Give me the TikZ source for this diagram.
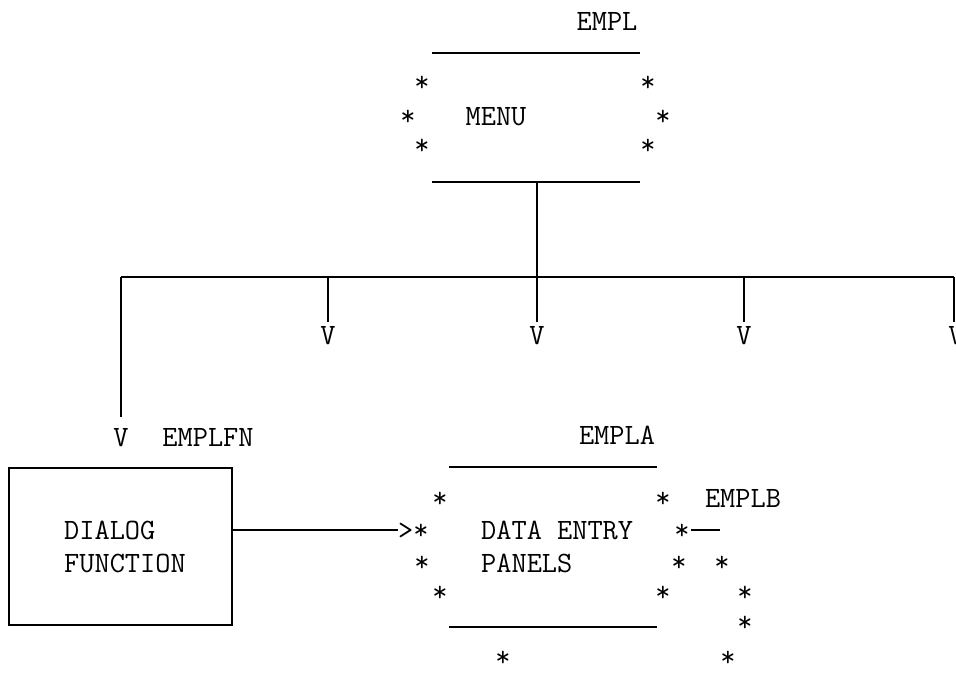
\documentclass[tikz,border=0pt]{standalone}
\begin{document}
\begin{tikzpicture}[x=1pt,y=-1pt,
  txt/.style={font=\ttfamily\fontsize{29.5}{30}\selectfont, inner sep=0pt, anchor=base},
  txtw/.style={txt, anchor=base west},
  st/.style={txt},
  ln/.style={line width=1.6pt}]
\useasboundingbox (0,0) rectangle (956,687);
% MENU block
\node[txt] (empl) at (607,31) {EMPL};
\coordinate (mtl) at (432,53); \coordinate (mtr) at (640,53);
\coordinate (mbl) at (432,182); \coordinate (mbr) at (640,182);
\draw[ln] (mtl) -- (mtr);
\draw[ln] (mbl) -- (mbr);
\node[txt] (menu) at (496,126) {MENU};
\node[st] (ms1) at (422,92) {*};
\node[st] (ms2) at (408,126) {*};
\node[st] (ms3) at (422,155) {*};
\node[st] (ms4) at (648,92) {*};
\node[st] (ms5) at (663,126) {*};
\node[st] (ms6) at (648,155) {*};
% bus
\coordinate (mdown) at (537,182);
\coordinate (bmid) at (537,277);
\coordinate (bl) at (121,277);
\coordinate (br) at (954,277);
\draw[ln] (mdown) -- (bmid);
\draw[ln] (bl) -- (br);
\coordinate (d1) at (121,417);
\coordinate (b2) at (328,277); \coordinate (d2) at (328,322);
\coordinate (d3) at (537,322);
\coordinate (b4) at (744,277); \coordinate (d4) at (744,322);
\coordinate (d5) at (954,322);
\draw[ln] (bl) -- (d1);
\draw[ln] (b2) -- (d2);
\draw[ln] (bmid) -- (d3);
\draw[ln] (b4) -- (d4);
\draw[ln] (br) -- (d5);
\node[txt] (v1) at (121,446) {V};
\node[txt] (v2) at (328,344) {V};
\node[txt] (v3) at (537,344) {V};
\node[txt] (v4) at (744,344) {V};
\node[txt] (v5) at (956,344) {V};
\node[txt] (emplfn) at (208,446) {EMPLFN};
% dialog box
\node[draw, ln, minimum width=223pt, minimum height=157pt, inner sep=0pt] (box) at (120.5,546.5) {};
\node[txtw] (dialog) at (64,539) {DIALOG};
\node[txtw] (function) at (64,572) {FUNCTION};
% data entry block
\node[txtw] (gt) at (398,539) {>*};
\coordinate (arrstart) at (232,530);
\draw[ln] (arrstart) -- (gt.west |- arrstart);
\node[txt] (empla) at (617,444) {EMPLA};
\coordinate (dtl) at (449,467); \coordinate (dtr) at (657,467);
\coordinate (dbl) at (449,627); \coordinate (dbr) at (657,627);
\draw[ln] (dtl) -- (dtr);
\draw[ln] (dbl) -- (dbr);
\node[txtw] (data) at (481,539) {DATA ENTRY};
\node[txtw] (panels) at (481,572) {PANELS};
\node[st] (ds1) at (440,507) {*};
\node[st] (ds2) at (422,571) {*};
\node[st] (ds3) at (440,601) {*};
\node[st] (ds4) at (663,507) {*};
\node[st] (ds5) at (682,539) {*};
\node[st] (ds6) at (679,571) {*};
\node[st] (ds7) at (663,601) {*};
\node[st] (ds8) at (503,666) {*};
\node[txt] (emplb) at (743,507) {EMPLB};
\coordinate (dsh1) at (691,530); \coordinate (dsh2) at (720,530);
\draw[ln] (dsh1) -- (dsh2);
\node[st] (bs1) at (722,571) {*};
\node[st] (bs2) at (745,601) {*};
\node[st] (bs3) at (745,631) {*};
\node[st] (bs4) at (728,666) {*};
\end{tikzpicture}
\end{document}
